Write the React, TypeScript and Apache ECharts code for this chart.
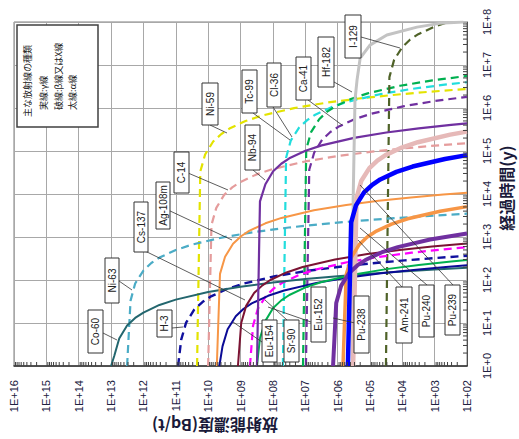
import React, { useEffect, useRef } from "react";
import * as echarts from "echarts";

type Pt = [number, number]; // [elapsed years, concentration Bq/t]

const CO60: Pt[] = [[1, 1e13], [1.75, 7.9e12], [4.38, 5.6e12], [8.75, 3.2e12], [13.1, 1.8e12], [17.5, 1e12], [26.3, 3.2e11], [35, 1e11], [52.5, 1e10], [70, 1e9], [87.5, 1e8], [105, 1e7], [122.5, 1e6], [140, 1e5], [157.6, 1e4], [175, 1e3], [192.6, 100]];
const NI63: Pt[] = [[1, 3.2e12], [33.2, 2.5e12], [83, 1.8e12], [166, 1.0e12], [249, 5.7e11], [332, 3.2e11], [498, 1.0e11], [664, 3.2e10], [997, 3.2e9], [1329, 3.2e8], [1661, 3.2e7], [1993, 3.2e6], [2326, 3.2e5], [2658, 3.2e4], [2990, 3.2e3], [3322, 320], [3488, 100]];
const H3: Pt[] = [[1, 8.5e10], [4.09, 6.8e10], [10.2, 4.8e10], [20.4, 2.7e10], [30.6, 1.5e10], [40.9, 8.5e9], [61.3, 2.7e9], [81.7, 8.5e8], [122.6, 8.5e7], [163.5, 8.5e6], [204, 8.5e5], [245, 8.5e4], [286, 8.5e3], [327, 850], [365, 100]];
const AG108M: Pt[] = [[1, 5.4e9], [139, 4.3e9], [347, 3.0e9], [694, 1.7e9], [1042, 9.6e8], [1389, 5.4e8], [2083, 1.7e8], [2778, 5.4e7], [4167, 5.4e6], [5556, 5.4e5], [6944, 5.4e4], [8333, 5.4e3], [9722, 540], [10736, 100]];
const EU154: Pt[] = [[1, 4.5e9], [2.86, 3.6e9], [7.14, 2.5e9], [14.3, 1.4e9], [21.4, 8.0e8], [28.6, 4.5e8], [42.9, 1.4e8], [57.1, 4.5e7], [85.7, 4.5e6], [114, 4.5e5], [143, 4.5e4], [171, 4.5e3], [200, 450], [219, 100]];
const CS137: Pt[] = [[1, 1.2e9], [10, 9.5e8], [25, 6.7e8], [50, 3.8e8], [75, 2.1e8], [100, 1.2e8], [150, 3.8e7], [200, 1.2e7], [300, 1.2e6], [400, 1.2e5], [500, 1.2e4], [600, 1.2e3], [708, 100]];
const EU152: Pt[] = [[1, 3.1e8], [4.48, 2.5e8], [11.2, 1.7e8], [22.4, 9.8e7], [33.6, 5.5e7], [44.8, 3.1e7], [67.3, 9.8e6], [89.7, 3.1e6], [134.5, 3.1e5], [179, 3.1e4], [224, 3.1e3], [269, 310], [291, 100]];
const SR90: Pt[] = [[1, 5.1e8], [8.6, 4.1e8], [21.6, 2.9e8], [43.2, 1.6e8], [64.8, 9.1e7], [86.4, 5.1e7], [129.5, 1.6e7], [172.7, 5.1e6], [259, 5.1e5], [345, 5.1e4], [432, 5.1e3], [518, 510], [579, 100]];
const NB94: Pt[] = [[1, 3.1e8], [6743, 2.5e8], [16860, 1.7e8], [33710, 9.8e7], [50570, 5.5e7], [67430, 3.1e7], [101150, 9.8e6], [134860, 3.1e6], [202290, 3.1e5], [269720, 3.1e4], [337150, 3.1e3], [404580, 310], [437620, 100]];
const NI59: Pt[] = [[1, 2.2e10], [33200, 1.75e10], [83000, 1.24e10], [166000, 7.0e9], [249000, 3.9e9], [332000, 2.2e9], [498000, 7.0e8], [664000, 2.2e8], [997000, 2.2e7], [1329000, 2.2e6], [1661000, 2.2e5], [1993000, 2.2e4], [2326000, 2.2e3], [2658000, 220], [2774000, 100]];
const C14: Pt[] = [[1, 1e10], [1905, 7.9e9], [4762, 5.6e9], [9524, 3.2e9], [14286, 1.8e9], [19048, 1e9], [28571, 3.2e8], [38095, 1e8], [57143, 1e7], [76190, 1e6], [95238, 1e5], [114286, 1e4], [133333, 1e3], [152381, 100]];
const CL36: Pt[] = [[1, 4.9e7], [69800, 3.9e7], [174500, 2.8e7], [349000, 1.55e7], [523000, 8.7e6], [698000, 4.9e6], [1047000, 1.55e6], [1396000, 4.9e5], [2094000, 4.9e4], [2791000, 4.9e3], [3489000, 490], [3971000, 100]];
const CA41: Pt[] = [[1, 1.17e7], [109600, 9.3e6], [274000, 6.6e6], [548000, 3.7e6], [822000, 2.1e6], [1096000, 1.17e6], [1645000, 3.7e5], [2193000, 1.17e5], [3289000, 1.17e4], [4386000, 1.17e3], [5559000, 100]];
const TC99: Pt[] = [[1, 9.5e6], [36500, 7.5e6], [91200, 5.3e6], [182500, 3.0e6], [273700, 1.7e6], [365000, 9.5e5], [547400, 3.0e5], [730000, 9.5e4], [1095000, 9.5e3], [1460000, 950], [1818000, 100]];
const I129: Pt[] = [[1, 3.2e4], [5.22e6, 2.5e4], [1.3e7, 1.8e4], [2.61e7, 1.0e4], [3.91e7, 5.7e3], [5.22e7, 3.2e3], [7.82e7, 1.0e3], [1e8, 380]];
const HF182: Pt[] = [[1, 3.5e5], [7200, 3.3e5], [1.5e6, 2.9e5], [4.5e6, 2.5e5], [1.45e7, 2.0e5], [2.9e7, 1.0e5], [5e7, 3.0e4], [7.6e7, 3.5e3], [9.3e7, 700], [1e8, 130]];
const PU238: Pt[] = [[1, 1.38e6], [29.1, 1.1e6], [72.8, 7.8e5], [145.6, 4.4e5], [218, 2.45e5], [291, 1.38e5], [437, 4.4e4], [583, 1.38e4], [874, 1.38e3], [1206, 100]];
const PU239: Pt[] = [[1, 3.3e5], [8006, 2.6e5], [20016, 1.86e5], [40032, 1.04e5], [60048, 5.9e4], [80064, 3.3e4], [120096, 1.04e4], [160128, 3.3e3], [240192, 330], [281800, 100]];
const PU240: Pt[] = [[1, 4.8e5], [2179, 3.8e5], [5447, 2.7e5], [10893, 1.52e5], [16340, 8.5e4], [21786, 4.8e4], [32680, 1.52e4], [43573, 4.8e3], [65359, 480], [80174, 100]];
const AM241: Pt[] = [[1, 6.8e5], [133, 5.4e5], [332, 3.8e5], [664, 2.15e5], [996, 1.21e5], [1328, 6.8e4], [1992, 2.15e4], [2656, 6.8e3], [3984, 680], [5086, 100]];

const X_TICK_LABELS = ["1E+02", "1E+03", "1E+04", "1E+05", "1E+06", "1E+07", "1E+08", "1E+09", "1E+10", "1E+11", "1E+12", "1E+13", "1E+14", "1E+15", "1E+16"];
const Y_TICK_LABELS = ["1E+0", "1E+1", "1E+2", "1E+3", "1E+4", "1E+5", "1E+6", "1E+7", "1E+8"];
const LEGEND_LINES = ["主な放射線の種類", "実線:γ線", "破線:β線又はX線", "太線:α線"];
const X_NAME = "放射能濃度(Bq/t)";
const Y_NAME = "経過時間(y)";

const SERIES_DEFS = [
  { name: "Ni-59", data: NI59, color: "#E3E300", width: 2.2, dashed: true },
  { name: "C-14", data: C14, color: "#E59C9C", width: 2.2, dashed: true },
  { name: "Cl-36", data: CL36, color: "#22DDDD", width: 2.2, dashed: true },
  { name: "Ca-41", data: CA41, color: "#00B050", width: 2.2, dashed: true },
  { name: "Tc-99", data: TC99, color: "#7030A0", width: 2.2, dashed: true },
  { name: "I-129", data: I129, color: "#4F6228", width: 2.2, dashed: true },
  { name: "Ni-63", data: NI63, color: "#4BACC6", width: 2.2, dashed: true },
  { name: "H-3", data: H3, color: "#10109E", width: 2.4, dashed: true },
  { name: "Sr-90", data: SR90, color: "#FF00FF", width: 2.2, dashed: true },
  { name: "Co-60", data: CO60, color: "#23666E", width: 2, dashed: false },
  { name: "Ag-108m", data: AG108M, color: "#F79646", width: 2, dashed: false },
  { name: "Eu-154", data: EU154, color: "#0A0A96", width: 2, dashed: false },
  { name: "Cs-137", data: CS137, color: "#7B1333", width: 2, dashed: false },
  { name: "Eu-152", data: EU152, color: "#00B050", width: 2, dashed: false },
  { name: "Nb-94", data: NB94, color: "#7030A0", width: 2.2, dashed: false },
  { name: "Hf-182", data: HF182, color: "#C3C3C3", width: 3, dashed: false },
  { name: "Pu-239", data: PU239, color: "#E6B9B8", width: 4.5, dashed: false },
  { name: "Am-241", data: AM241, color: "#F79646", width: 3.5, dashed: false },
  { name: "Pu-238", data: PU238, color: "#7030A0", width: 4, dashed: false },
  { name: "Pu-240", data: PU240, color: "#0000FF", width: 4.5, dashed: false },
];

// label boxes: [x1, y1, x2, y2] in px, leader: [x1, y1, x2, y2]
const LABELS = [
  { text: "Co-60", box: [88, 310, 103, 353], leader: [103, 333, 117, 340] },
  { text: "Ni-63", box: [105, 258, 119, 303], leader: [119, 281, 132, 290] },
  { text: "Cs-137", box: [134, 202, 148, 252], leader: [143, 250, 245, 300] },
  { text: "Ag-108m", box: [156, 182, 170, 229], leader: [168, 210, 232, 240] },
  { text: "C-14", box: [174, 152, 189, 193], leader: [188, 173, 228, 190] },
  { text: "Ni-59", box: [202, 83, 218, 125], leader: [210, 125, 227, 133] },
  { text: "Tc-99", box: [242, 70, 257, 113], leader: [253, 113, 290, 140] },
  { text: "Nb-94", box: [245, 125, 260, 170], leader: [253, 170, 265, 180] },
  { text: "Cl-36", box: [267, 63, 281, 107], leader: [273, 107, 292, 137] },
  { text: "Ca-41", box: [296, 57, 311, 100], leader: [308, 100, 342, 125] },
  { text: "Hf-182", box: [318, 37, 334, 87], leader: [334, 82, 352, 92] },
  { text: "I-129", box: [345, 15, 361, 58], leader: [361, 37, 400, 48] },
  { text: "H-3", box: [157, 310, 172, 337], leader: [172, 328, 183, 327] },
  { text: "Eu-154", box: [262, 320, 277, 362], leader: [262, 342, 233, 322] },
  { text: "Sr-90", box: [284, 320, 299, 362], leader: [287, 320, 265, 300] },
  { text: "Eu-152", box: [311, 287, 326, 342], leader: [311, 322, 268, 307] },
  { text: "Pu-238", box: [354, 296, 369, 353], leader: [355, 323, 333, 318] },
  { text: "Am-241", box: [396, 287, 412, 343], leader: [402, 287, 358, 240] },
  { text: "Pu-240", box: [419, 285, 434, 337], leader: [427, 285, 360, 228] },
  { text: "Pu-239", box: [445, 285, 460, 335], leader: [453, 285, 360, 185] },
];

const MINOR_X: number[] = [];
for (let n = 2; n < 16; n++) for (let k = 2; k <= 9; k++) MINOR_X.push(k * Math.pow(10, n));
const MINOR_Y: number[] = [];
for (let n = 0; n < 8; n++) for (let k = 2; k <= 9; k++) MINOR_Y.push(k * Math.pow(10, n));

export default function App() {
  const ref = useRef<HTMLDivElement>(null);
  useEffect(() => {
    if (!ref.current) return;
    const chart = echarts.init(ref.current, null, { renderer: "svg" });
    const expOf = (v: number) => Math.round(Math.log10(v));

    const lineSeries = SERIES_DEFS.map((d) => ({
      type: "line",
      name: d.name,
      data: d.data.map(([t, c]) => [c, t]),
      showSymbol: false,
      symbol: "none",
      smooth: false,
      clip: true,
      silent: true,
      lineStyle: { color: d.color, width: d.width, type: d.dashed ? [8, 5] : "solid", cap: "butt" },
      z: 3,
    }));

    const minorX = {
      type: "custom",
      silent: true,
      z: 4,
      data: MINOR_X.map((v) => [v, 1]),
      renderItem: (params: any, api: any) => {
        const p = api.coord([api.value(0), 1]);
        return { type: "line", shape: { x1: p[0], y1: p[1], x2: p[0], y2: p[1] - 4 }, style: { stroke: "#404040", lineWidth: 1 } };
      },
    };
    const minorY = {
      type: "custom",
      silent: true,
      z: 4,
      data: MINOR_Y.map((v) => [100, v]),
      renderItem: (params: any, api: any) => {
        const p = api.coord([100, api.value(1)]);
        return { type: "line", shape: { x1: p[0], y1: p[1], x2: p[0] - 4, y2: p[1] }, style: { stroke: "#404040", lineWidth: 1 } };
      },
    };

    const graphics: any[] = [];
    graphics.push({ type: "rect", z: 100, shape: { x: 17, y: 25, width: 81, height: 102 }, style: { fill: "#fff", stroke: "#404040", lineWidth: 1.5 } });
    const legendX = [27.5, 43.5, 58.5, 72.5];
    LEGEND_LINES.forEach((s, i) => {
      graphics.push({
        type: "text", z: 101, x: legendX[i], y: i === 0 ? 117 : 110, rotation: Math.PI / 2,
        style: { text: s, fontSize: 9, fontFamily: "Noto Sans CJK JP", fill: "#222", align: "left", verticalAlign: "middle" },
      });
    });
    LABELS.forEach((l) => {
      const [x1, y1, x2, y2] = l.box;
      const [a, b, c, d] = l.leader;
      graphics.push({ type: "line", z: 100, shape: { x1: a, y1: b, x2: c, y2: d }, style: { stroke: "#333", lineWidth: 0.8 } });
      graphics.push({ type: "rect", z: 101, shape: { x: x1, y: y1, width: x2 - x1, height: y2 - y1 }, style: { fill: "#fff", stroke: "#333", lineWidth: 1 } });
      graphics.push({
        type: "text", z: 102, x: (x1 + x2) / 2, y: (y1 + y2) / 2, rotation: Math.PI / 2,
        style: { text: l.text, fontSize: 10, fontFamily: "Liberation Sans", fill: "#222", align: "center", verticalAlign: "middle" },
      });
    });
    graphics.push({
      type: "text", z: 101, x: 215, y: 426, rotation: Math.PI,
      style: { text: X_NAME, fontSize: 16, fontWeight: "bold", fontFamily: "Noto Sans CJK JP", fill: "#1a1a3a", align: "center", verticalAlign: "middle" },
    });
    graphics.push({
      type: "text", z: 101, x: 506, y: 188, rotation: Math.PI / 2,
      style: { text: Y_NAME, fontSize: 16, fontWeight: "bold", fontFamily: "Noto Sans CJK JP", fill: "#1a1a3a", align: "center", verticalAlign: "middle" },
    });

    chart.setOption({
      animation: false,
      backgroundColor: "#fff",
      grid: { left: 14, right: 52, top: 22, bottom: 73, show: true, borderColor: "#7f7f7f", borderWidth: 1 },
      xAxis: {
        type: "log", logBase: 10, min: 1e2, max: 1e16, interval: 1, inverse: true, position: "bottom",
        axisLine: { show: true, lineStyle: { color: "#303030", width: 1.5 } },
        axisTick: { show: false },
        splitLine: { show: true, lineStyle: { color: "#a8a8a8", width: 1 } },
        axisLabel: { rotate: 90, margin: 14, fontSize: 11, fontFamily: "Liberation Sans", color: "#202040", formatter: (v: number) => X_TICK_LABELS[expOf(v) - 2] },
      },
      yAxis: {
        type: "log", logBase: 10, min: 1, max: 1e8, interval: 1, position: "right",
        axisLine: { show: true, lineStyle: { color: "#505050", width: 1 } },
        axisTick: { show: false },
        splitLine: { show: true, lineStyle: { color: "#a8a8a8", width: 1 } },
        axisLabel: { rotate: 90, margin: 14, fontSize: 11, fontFamily: "Liberation Sans", color: "#202040", formatter: (v: number) => Y_TICK_LABELS[expOf(v)] },
      },
      series: [...lineSeries, minorX, minorY],
      graphic: graphics,
    });
    return () => chart.dispose();
  }, []);
  return <div ref={ref} style={{ position: "fixed", left: 0, top: 0, width: 519, height: 439 }} />;
}
